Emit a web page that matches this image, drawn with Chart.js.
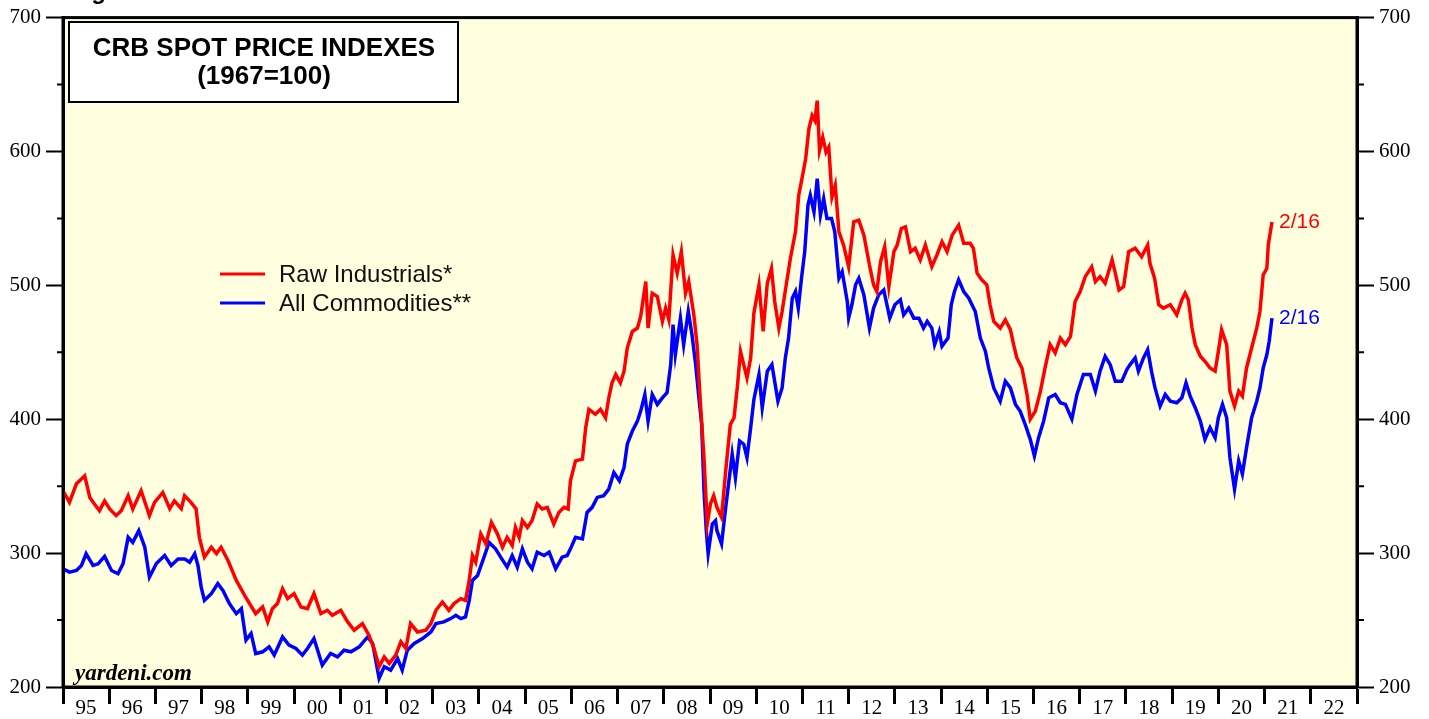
<!DOCTYPE html>
<html>
<head>
<meta charset="utf-8">
<script src="https://cdn.jsdelivr.net/npm/chart.js@4.4.1/dist/chart.umd.min.js"></script>
<style>
  html, body { margin: 0; padding: 0; background: #ffffff; }
  canvas { display: block; }
</style>
</head>
<body>
<canvas id="chart" width="1429" height="719"></canvas>
<script>
// year labels shown between the yearly tick marks
const xLabels = ['95','96','97','98','99','00','01','02','03','04','05','06','07','08','09','10','11','12','13','14','15','16','17','18','19','20','21','22'];

// CRB Raw Industrials (decimal year / index value)
const rawYears = [
  1995.00,1995.14,1995.29,1995.47,1995.58,1995.68,1995.79,1995.90,1996.01,1996.15,1996.26,1996.41,1996.51,1996.69,1996.87,1996.98,
  1997.16,1997.31,1997.41,1997.56,1997.63,1997.77,1997.88,1997.95,1998.06,1998.21,1998.32,1998.42,1998.57,1998.75,1998.93,
  1999.17,1999.32,1999.43,1999.53,1999.64,1999.75,1999.86,2000.00,2000.15,2000.29,2000.43,2000.58,2000.72,2000.83,
  2001.01,2001.16,2001.30,2001.48,2001.62,2001.73,2001.84,2001.95,2002.06,2002.20,2002.31,2002.42,2002.52,2002.67,2002.85,2002.96,
  2003.07,2003.21,2003.35,2003.46,2003.61,2003.71,2003.79,2003.86,2003.93,2004.04,2004.15,2004.27,2004.40,2004.51,2004.61,2004.72,
  2004.79,2004.87,2004.94,2005.05,2005.15,2005.26,2005.37,2005.48,2005.62,2005.73,2005.84,2005.93,2005.98,2006.09,2006.24,2006.31,
  2006.38,2006.52,2006.63,2006.74,2006.81,2006.88,2006.96,2007.06,2007.14,2007.21,2007.32,2007.43,2007.50,2007.61,2007.66,2007.75,
  2007.86,2007.97,2008.04,2008.11,2008.20,2008.29,2008.38,2008.47,2008.54,2008.65,2008.72,2008.79,2008.87,2008.94,2009.01,2009.08,
  2009.15,2009.25,2009.34,2009.44,2009.52,2009.59,2009.66,2009.73,2009.80,2009.88,2009.95,2010.06,2010.15,2010.24,2010.33,2010.40,
  2010.49,2010.56,2010.65,2010.74,2010.85,2010.92,2010.99,2011.07,2011.14,2011.21,2011.27,2011.32,2011.37,2011.44,2011.51,2011.57,
  2011.64,2011.71,2011.79,2011.89,2012.00,2012.11,2012.22,2012.33,2012.45,2012.54,2012.61,2012.69,2012.78,2012.87,2012.98,2013.05,
  2013.14,2013.23,2013.34,2013.44,2013.55,2013.66,2013.80,2013.91,2014.02,2014.13,2014.24,2014.38,2014.49,2014.63,2014.70,2014.78,
  2014.88,2014.99,2015.06,2015.14,2015.28,2015.39,2015.50,2015.57,2015.64,2015.75,2015.86,2015.93,2016.04,2016.15,2016.25,2016.36,
  2016.47,2016.58,2016.69,2016.80,2016.90,2017.01,2017.12,2017.26,2017.34,2017.44,2017.55,2017.70,2017.77,2017.85,2017.95,2018.06,
  2018.20,2018.34,2018.47,2018.52,2018.62,2018.71,2018.81,2018.96,2019.10,2019.21,2019.28,2019.35,2019.43,2019.50,2019.61,2019.71,
  2019.82,2019.93,2020.00,2020.07,2020.18,2020.25,2020.35,2020.44,2020.52,2020.61,2020.72,2020.83,2020.90,2020.97,2021.05,2021.08,
  2021.16
];
const rawValues = [
  346.6,337.9,351.8,357.7,341.6,336.7,331.7,339,333,328,331.7,342.9,333,346.6,328,337.9,
  345.3,333.2,339,333.2,342.9,337.9,333,311.8,297,304.4,299.7,304.4,294.5,279.6,268.5,
  254.8,259.8,248.6,258.5,262.3,273.4,266,269.7,259.8,258.5,269.7,254.8,257.3,253.6,
  257.3,248.6,242.4,247.4,238.7,228.8,215.1,222.5,217.6,223.8,233.7,228.8,247.4,241.1,242.4,247.4,
  257.3,263.5,257.3,262.3,266,264.7,279.6,298.2,293.2,314.4,306.9,323,314.4,304.4,311.8,305.7,
  319.2,311.8,324.3,319.2,324.3,336.7,333,334.2,321.7,330.4,334.2,333,354,368.9,370.2,393.7,
  407.4,403.7,407.4,401.1,416,427.2,433.4,427.2,435.9,453.2,465.6,468.1,476.8,502.8,468.1,494.1,
  491.7,473.1,483,474.3,522.8,509.1,525.2,494.1,502.8,478,455.7,413.5,371.3,321.7,336.7,342.9,
  334.2,326.7,361.5,396.2,401.1,423.4,450.7,440.8,430.9,445.8,479.3,500.4,465.6,501.6,512.7,488,
  468.1,480.5,500.4,520.3,540,567.3,579.7,594.6,616.9,626.8,623.1,638,600.9,610.7,599.6,603.3,
  566.1,574.8,540,530.1,513.9,547.4,548.7,537.5,515.2,500.4,495.4,517.7,528.9,499.1,525.2,530.1,
  542.5,543.7,525.2,527.7,519,530.1,513.9,522.7,532.6,525.2,537.5,545,531.4,531.4,527.7,509.1,
  504.1,500.4,485.5,473.1,468.1,474.3,466.9,455.7,445.8,438.3,418.5,400.1,406.1,421,438.3,455.7,
  449.5,460.6,455.7,461.9,488,495.4,506.5,513.9,502.8,506.5,501.6,519,509.1,496.6,499.1,525.2,
  527.7,521.4,530.1,516.5,505.3,485.5,483,485.5,478,489.2,494.1,489.2,468.1,455.7,447,443.3,
  438.3,435.9,450.7,466.9,455.7,421,409.8,421,417.3,438.3,453.2,468.1,480.5,507.8,512.7,530.1,
  547.4
];

// CRB All Commodities (decimal year / index value)
const allYears = [
  1995.00,1995.14,1995.29,1995.40,1995.50,1995.65,1995.76,1995.90,1996.05,1996.19,1996.30,1996.41,1996.51,1996.64,1996.77,1996.87,
  1997.02,1997.20,1997.34,1997.49,1997.63,1997.74,1997.85,1997.92,1997.99,1998.06,1998.21,1998.35,1998.46,1998.60,1998.75,1998.86,
  1998.96,1999.07,1999.17,1999.32,1999.46,1999.57,1999.75,1999.89,2000.04,2000.18,2000.29,2000.43,2000.61,2000.79,2000.94,2001.08,
  2001.23,2001.41,2001.59,2001.70,2001.84,2001.95,2002.09,2002.24,2002.34,2002.45,2002.60,2002.78,2002.96,2003.07,2003.24,2003.39,
  2003.50,2003.61,2003.71,2003.79,2003.86,2003.97,2004.11,2004.22,2004.36,2004.47,2004.61,2004.72,2004.83,2004.94,2005.05,2005.15,
  2005.26,2005.41,2005.52,2005.66,2005.80,2005.91,2005.98,2006.09,2006.24,2006.34,2006.45,2006.56,2006.70,2006.81,2006.92,2007.04,
  2007.14,2007.21,2007.32,2007.43,2007.50,2007.59,2007.66,2007.75,2007.86,2007.97,2008.07,2008.15,2008.20,2008.25,2008.36,2008.43,
  2008.53,2008.61,2008.69,2008.76,2008.82,2008.87,2008.92,2008.96,2009.05,2009.12,2009.15,2009.25,2009.34,2009.41,2009.48,2009.55,
  2009.64,2009.73,2009.80,2009.88,2009.95,2010.06,2010.13,2010.24,2010.34,2010.47,2010.56,2010.63,2010.70,2010.78,2010.85,2010.91,
  2010.98,2011.05,2011.12,2011.17,2011.25,2011.32,2011.39,2011.46,2011.53,2011.63,2011.70,2011.79,2011.86,2011.97,2012.00,2012.07,
  2012.15,2012.22,2012.33,2012.45,2012.54,2012.65,2012.76,2012.89,2013.00,2013.12,2013.19,2013.30,2013.41,2013.52,2013.62,2013.70,
  2013.80,2013.86,2013.96,2014.02,2014.15,2014.22,2014.29,2014.38,2014.49,2014.60,2014.74,2014.85,2014.96,2015.03,2015.14,2015.28,
  2015.39,2015.50,2015.61,2015.71,2015.82,2015.93,2016.02,2016.11,2016.22,2016.33,2016.47,2016.58,2016.69,2016.83,2016.94,2017.08,
  2017.23,2017.34,2017.44,2017.55,2017.66,2017.77,2017.91,2018.02,2018.09,2018.20,2018.27,2018.38,2018.47,2018.56,2018.63,2018.74,
  2018.85,2018.96,2019.10,2019.21,2019.30,2019.39,2019.50,2019.61,2019.71,2019.82,2019.93,2020.00,2020.09,2020.18,2020.25,2020.35,
  2020.44,2020.52,2020.61,2020.72,2020.83,2020.90,2020.97,2021.05,2021.10,2021.16
];
const allValues = [
  288.3,285.8,287,290.8,299.5,290.8,292,297.5,287,284.6,292.2,311.8,308,316.8,304.4,282,
  292.2,298.2,290.8,295.7,295.7,293.2,299.5,290.8,274.6,264.7,269.7,277.2,272.2,262.3,254.8,258.5,
  235,240,225,226.3,230,223.8,237.4,231.3,228.8,223.8,228.8,236.2,216.4,225,222.5,227.5,
  226.3,230,237.4,232.5,206.5,215.1,212.6,221.3,212.6,227.5,232.5,236.2,241.1,247.4,248.6,251.1,
  253.6,251.1,252.3,264.7,279.6,283.3,297,308,303.2,297,289.5,298.2,289.5,303.2,293.2,288.3,
  300.7,298.2,300.7,288.3,297,298.2,303.2,311.8,310.6,330.4,334.2,341.6,342.9,347.8,360.2,354,
  363.9,381.4,391.2,398.7,406.1,418.5,398.7,418.5,411.1,416,419.8,440.8,470.6,448.3,475.5,455.7,
  480.5,463.2,440.8,416,396.2,346.6,316.8,299.5,321.7,324.3,316.8,306.9,334.2,354,373.9,356.4,
  383.8,381.4,371.3,393.7,414.8,433.4,408.6,435.9,440.8,413.5,423.4,445.8,460.6,490.4,495.4,483,
  505.3,525.2,560,567.3,554.9,579.7,552.4,564.8,549.9,549.9,540,505.3,510.3,488,475.5,485.5,
  500.4,505.3,492.9,468.1,483,492.9,496.6,475.5,485.5,489.2,478,483,475.5,475.5,468.1,473.1,
  468.1,455.7,465.6,454.5,460.6,485.5,495.4,504.1,495.4,490.4,480.5,460.6,450.7,438.3,423.4,413.5,
  428.4,423.4,411.1,406.1,396.2,385,372.6,386.2,398.7,416,418.5,412.3,411.1,400.1,418.5,433.4,
  433.4,421,435.9,447,440.8,428.4,428.4,437.1,440.8,445.8,435.9,445.8,452,434.6,423.4,409.8,
  418.5,413.5,412.3,416,427.2,417.3,408.6,398.7,385,393.7,386.2,401.1,411.1,401.1,371.3,347.8,
  368.9,359,378.8,401.1,413.5,423.4,438.3,448.3,458.2,475.5
];

const lastLabel = '2/16';

function toPoints(xs, ys) {
  return xs.map((x, i) => ({ x: x, y: ys[i] }));
}

const serif = '"Liberation Serif", "Times New Roman", serif';
const sans = '"Liberation Sans", Arial, Helvetica, sans-serif';

// 背景・枠・タイトル・凡例などの描画
const decorPlugin = {
  id: 'decor',
  beforeDraw(chart) {
    const { ctx, chartArea: a } = chart;
    ctx.save();
    ctx.fillStyle = '#ffffe0';
    ctx.fillRect(a.left, a.top, a.right - a.left, a.bottom - a.top);
    ctx.restore();
  },
  afterDraw(chart) {
    const { ctx, chartArea: a } = chart;
    const xs = chart.scales.x;
    const yl = chart.scales.y;
    const yr = chart.scales.y1;
    ctx.save();

    // half-hundred minor ticks on both value axes
    ctx.strokeStyle = '#000';
    ctx.lineWidth = 2;
    for (let v = 250; v < 700; v += 100) {
      const py = yl.getPixelForValue(v);
      ctx.beginPath();
      ctx.moveTo(a.left - 6, py);
      ctx.lineTo(a.left, py);
      ctx.moveTo(a.right, yr.getPixelForValue(v));
      ctx.lineTo(a.right + 7, yr.getPixelForValue(v));
      ctx.stroke();
    }

    // frame
    ctx.lineWidth = 3;
    ctx.strokeRect(a.left, a.top, a.right - a.left, a.bottom - a.top);

    // cut-off figure caption at the very top
    ctx.fillStyle = '#000';
    ctx.font = 'bold 24px ' + sans;
    ctx.textAlign = 'left';
    ctx.textBaseline = 'alphabetic';
    ctx.fillText('Figure 1.', 70, -1);

    // title box
    ctx.fillStyle = '#ffffff';
    ctx.fillRect(69, 22, 389, 80);
    ctx.lineWidth = 2;
    ctx.strokeRect(69, 22, 389, 80);
    ctx.fillStyle = '#000';
    ctx.font = 'bold 26px ' + sans;
    ctx.textAlign = 'center';
    ctx.textBaseline = 'middle';
    ctx.fillText('CRB SPOT PRICE INDEXES', 264, 49);
    ctx.fillText('(1967=100)', 264, 77);

    // legend
    ctx.font = '24px ' + sans;
    ctx.textAlign = 'left';
    chart.data.datasets.forEach((ds, i) => {
      const ly = 274 + i * 29;
      ctx.strokeStyle = ds.borderColor;
      ctx.lineWidth = 3;
      ctx.beginPath();
      ctx.moveTo(220, ly);
      ctx.lineTo(265, ly);
      ctx.stroke();
      ctx.fillStyle = '#111';
      ctx.fillText(ds.label, 279, ly + 1);
    });

    // last-date labels
    ctx.font = '21px ' + sans;
    chart.data.datasets.forEach(ds => {
      const last = ds.data[ds.data.length - 1];
      ctx.fillStyle = ds.borderColor;
      ctx.fillText(lastLabel, xs.getPixelForValue(last.x) + 7, yl.getPixelForValue(last.y));
    });

    // source
    ctx.fillStyle = '#000';
    ctx.font = 'italic bold 23px ' + serif;
    ctx.textBaseline = 'alphabetic';
    ctx.fillText('yardeni.com', 75, 680);

    ctx.restore();
  }
};

const valueAxis = (position, width) => ({
  position: position,
  min: 200,
  max: 700,
  ticks: {
    stepSize: 100,
    padding: 5,
    color: '#000',
    font: { family: serif, size: 21 }
  },
  grid: { drawOnChartArea: false, tickLength: 17, tickWidth: 2, tickColor: '#000' },
  border: { color: '#000', width: 3 },
  afterFit: (scale) => { scale.width = width; }
});

const ctx = document.getElementById('chart').getContext('2d');

new Chart(ctx, {
  type: 'line',
  data: {
    datasets: [
      {
        label: 'Raw Industrials*',
        data: toPoints(rawYears, rawValues),
        borderColor: '#ff0000',
        borderWidth: 3.5,
        pointRadius: 0,
        tension: 0
      },
      {
        label: 'All Commodities**',
        data: toPoints(allYears, allValues),
        borderColor: '#0000ff',
        borderWidth: 3.5,
        pointRadius: 0,
        tension: 0
      }
    ]
  },
  options: {
    responsive: false,
    animation: false,
    layout: { padding: { top: 15, left: 0, right: 0, bottom: 0 } },
    plugins: {
      legend: { display: false },
      tooltip: { enabled: false }
    },
    scales: {
      x: {
        type: 'linear',
        min: 1995,
        max: 2023,
        afterBuildTicks: (scale) => {
          const t = [];
          for (let yr = 1995; yr <= 2023; yr++) {
            t.push({ value: yr });
            if (yr < 2023) t.push({ value: yr + 0.5 });
          }
          scale.ticks = t;
        },
        ticks: {
          autoSkip: false,
          maxRotation: 0,
          padding: -8,
          color: '#000',
          font: { family: serif, size: 21 },
          callback: (v) => Number.isInteger(v) ? '' : xLabels[Math.floor(v) - 1995]
        },
        grid: {
          drawOnChartArea: false,
          tickLength: 17,
          tickWidth: 3,
          tickColor: (c) => (c.tick && Number.isInteger(c.tick.value)) ? '#000' : 'rgba(0,0,0,0)'
        },
        border: { color: '#000', width: 3 },
        afterFit: (scale) => { scale.height = 32; }
      },
      y: valueAxis('left', 63),
      y1: valueAxis('right', 72)
    }
  },
  plugins: [decorPlugin]
});
</script>
</body>
</html>
